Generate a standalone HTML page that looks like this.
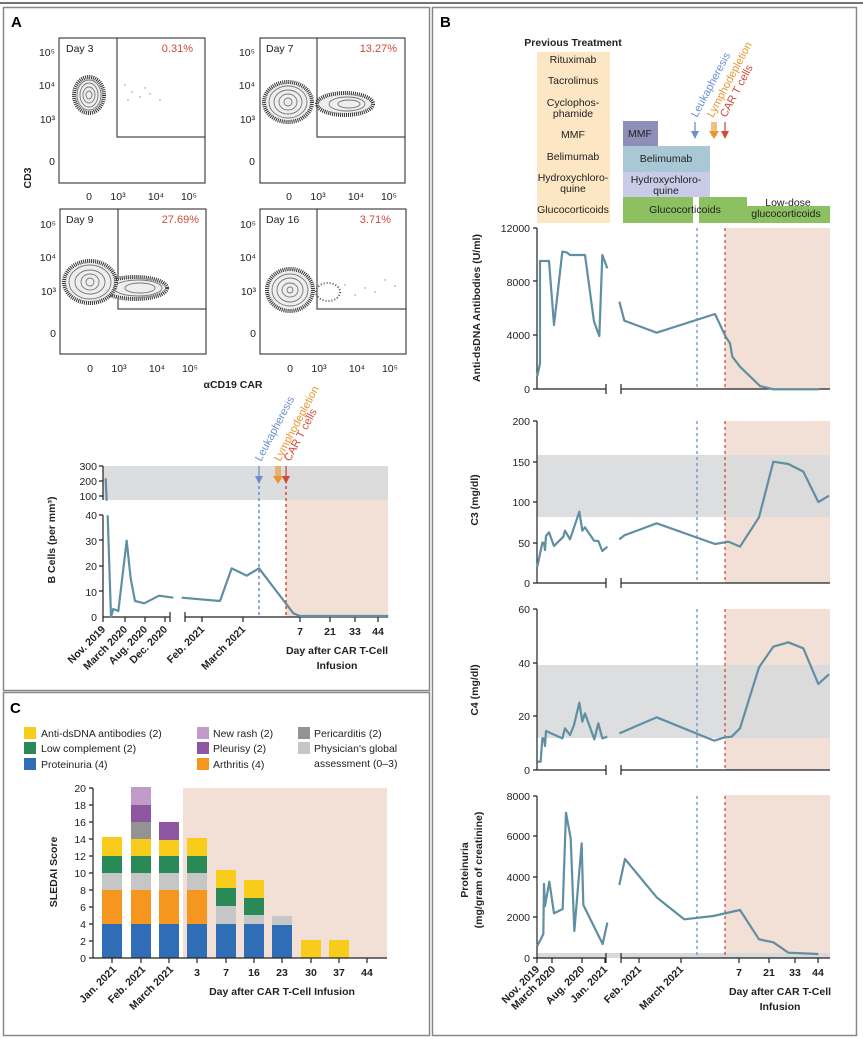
<!DOCTYPE html>
<html><head><meta charset="utf-8"><style>
body{margin:0;background:#fff}
svg{display:block;font-family:"Liberation Sans",sans-serif}
.t{font-size:10.5px;fill:#222}
.b{font-weight:bold}
.ln{fill:none;stroke:#5f8fa3;stroke-width:2.2;stroke-linejoin:round}
.ax{stroke:#222;stroke-width:1.2;fill:none}
.o{fill:#eee;stroke:#333;stroke-width:4;stroke-dasharray:1 1}
.c{fill:none;stroke:#777;stroke-width:0.9}
</style></head><body>
<svg width="863" height="1039" viewBox="0 0 863 1039" xmlns="http://www.w3.org/2000/svg">
<line x1="0" y1="3" x2="863" y2="3" stroke="#222" stroke-width="1.2"/>
<rect x="3.5" y="7.5" width="426" height="683" fill="none" stroke="#888" stroke-width="1.5"/>
<rect x="432.5" y="7.5" width="424" height="1028" fill="none" stroke="#888" stroke-width="1.5"/>
<rect x="3.5" y="692.5" width="426" height="343" fill="none" stroke="#888" stroke-width="1.5"/>
<text x="11" y="27" font-size="15" class="b">A</text>
<text x="440" y="27" font-size="15" class="b">B</text>
<text x="10" y="713" font-size="15" class="b">C</text>

<!-- Panel A flow plots -->
<g id="flow">
<g>
<rect x="59" y="38" width="146" height="145" fill="none" stroke="#222"/>
<rect x="117" y="38" width="88" height="99" fill="none" stroke="#222"/>
<ellipse cx="89" cy="95" rx="15" ry="18" class="o"/>
<ellipse cx="89" cy="95" rx="12" ry="15" class="c"/>
<ellipse cx="89" cy="95" rx="9" ry="12" class="c"/>
<ellipse cx="89" cy="95" rx="6" ry="8" class="c"/>
<ellipse cx="89" cy="95" rx="3" ry="4" class="c"/>
<g fill="#888"><circle cx="125" cy="85" r=".7"/><circle cx="132" cy="92" r=".7"/><circle cx="140" cy="97" r=".7"/><circle cx="150" cy="94" r=".7"/><circle cx="160" cy="100" r=".7"/><circle cx="128" cy="100" r=".7"/><circle cx="145" cy="88" r=".7"/></g>
<text x="66" y="52" class="t" font-size="11">Day 3</text>
<text x="193" y="52" font-size="11" text-anchor="end" fill="#d04a3a">0.31%</text>
</g>
<g>
<rect x="260" y="38" width="145" height="145" fill="none" stroke="#222"/>
<rect x="317" y="38" width="88" height="99" fill="none" stroke="#222"/>
<ellipse cx="345" cy="104" rx="28" ry="11" class="o"/>
<ellipse cx="288" cy="102" rx="24" ry="20" class="o"/>
<ellipse cx="288" cy="102" rx="19" ry="16" class="c"/>
<ellipse cx="288" cy="102" rx="14" ry="12" class="c"/>
<ellipse cx="288" cy="102" rx="9" ry="8" class="c"/>
<ellipse cx="288" cy="102" rx="4" ry="4" class="c"/>
<ellipse cx="347" cy="104" rx="18" ry="7" class="c"/>
<ellipse cx="349" cy="104" rx="11" ry="4" class="c"/>
<text x="266" y="52" class="t" font-size="11">Day 7</text>
<text x="397" y="52" font-size="11" text-anchor="end" fill="#d04a3a">13.27%</text>
</g>
<g>
<rect x="60" y="209" width="146" height="145" fill="none" stroke="#222"/>
<rect x="118" y="209" width="88" height="100" fill="none" stroke="#222"/>
<ellipse cx="135" cy="288" rx="32" ry="11" class="o"/>
<ellipse cx="90" cy="282" rx="26" ry="21" class="o"/>
<ellipse cx="90" cy="282" rx="21" ry="17" class="c"/>
<ellipse cx="90" cy="282" rx="15" ry="12" class="c"/>
<ellipse cx="90" cy="282" rx="9" ry="8" class="c"/>
<ellipse cx="90" cy="282" rx="4" ry="4" class="c"/>
<ellipse cx="138" cy="288" rx="24" ry="8" class="c"/>
<ellipse cx="140" cy="288" rx="15" ry="5" class="c"/>
<text x="66" y="223" class="t" font-size="11">Day 9</text>
<text x="199" y="223" font-size="11" text-anchor="end" fill="#d04a3a">27.69%</text>
</g>
<g>
<rect x="260" y="209" width="146" height="145" fill="none" stroke="#222"/>
<rect x="317" y="209" width="89" height="100" fill="none" stroke="#222"/>
<ellipse cx="290" cy="290" rx="23" ry="21" class="o"/>
<ellipse cx="290" cy="290" rx="18" ry="16" class="c"/>
<ellipse cx="290" cy="290" rx="13" ry="12" class="c"/>
<ellipse cx="290" cy="290" rx="8" ry="7" class="c"/>
<ellipse cx="290" cy="290" rx="3" ry="3" class="c"/>
<ellipse cx="328" cy="292" rx="12" ry="9" fill="none" stroke="#555" stroke-width="2" stroke-dasharray="1 2"/>
<g fill="#888"><circle cx="345" cy="285" r=".7"/><circle cx="355" cy="295" r=".7"/><circle cx="365" cy="288" r=".7"/><circle cx="375" cy="292" r=".7"/><circle cx="385" cy="280" r=".7"/><circle cx="395" cy="286" r=".7"/></g>
<text x="266" y="223" class="t" font-size="11">Day 16</text>
<text x="391" y="223" font-size="11" text-anchor="end" fill="#d04a3a">3.71%</text>
</g>
<g class="t" font-size="10.5" text-anchor="end">
<text x="55" y="56">10⁵</text><text x="55" y="89">10⁴</text><text x="55" y="123">10³</text><text x="55" y="165">0</text>
<text x="255" y="56">10⁵</text><text x="255" y="89">10⁴</text><text x="255" y="123">10³</text><text x="255" y="165">0</text>
<text x="56" y="228">10⁵</text><text x="56" y="261">10⁴</text><text x="56" y="295">10³</text><text x="56" y="337">0</text>
<text x="256" y="228">10⁵</text><text x="256" y="261">10⁴</text><text x="256" y="295">10³</text><text x="256" y="337">0</text>
</g>
<g class="t" font-size="10.5" text-anchor="middle">
<text x="89" y="200">0</text><text x="118" y="200">10³</text><text x="156" y="200">10⁴</text><text x="189" y="200">10⁵</text>
<text x="289" y="200">0</text><text x="318" y="200">10³</text><text x="356" y="200">10⁴</text><text x="389" y="200">10⁵</text>
<text x="90" y="372">0</text><text x="119" y="372">10³</text><text x="157" y="372">10⁴</text><text x="190" y="372">10⁵</text>
<text x="290" y="372">0</text><text x="319" y="372">10³</text><text x="357" y="372">10⁴</text><text x="390" y="372">10⁵</text>
</g>
<text transform="translate(31,178) rotate(-90)" class="t b" font-size="11.5" text-anchor="middle">CD3</text>
<text x="233" y="388" class="t b" font-size="11.5" text-anchor="middle">αCD19 CAR</text>
</g>

<!-- B cells chart -->
<rect x="286" y="466" width="102" height="151" fill="#f2dfd5"/>
<rect x="103" y="466" width="285" height="34" fill="#d9dadb" opacity="0.92"/>
<line x1="259" y1="480" x2="259" y2="617" stroke="#6b8fd0" stroke-width="1.5" stroke-dasharray="3 3"/>
<line x1="286" y1="480" x2="286" y2="617" stroke="#d04a3a" stroke-width="1.5" stroke-dasharray="3 3"/>
<path class="ax" d="M103,466V500 M103,515V617H170 M185,617H388 M99,466H103 M99,481H103 M99,496H103 M99,515H103 M99,540H103 M99,566H103 M99,591H103"/>
<path class="ax" d="M170,612V622 M185,612V622 M103,617V622 M125,617V622 M145,617V622 M165,617V622 M202,617V622 M243,617V622 M300,617V622 M330,617V622 M355,617V622 M378,617V622"/>
<g class="t" text-anchor="end" font-size="11">
<text x="97" y="470">300</text><text x="97" y="485">200</text><text x="97" y="500">100</text>
<text x="97" y="519">40</text><text x="97" y="545">30</text><text x="97" y="570">20</text><text x="97" y="596">10</text><text x="97" y="621">0</text>
</g>
<g transform="translate(40,410) scale(0.33333)">
<polyline class="ln" vector-effect="non-scaling-stroke" points="197,205 200,272"/>
<polyline class="ln" vector-effect="non-scaling-stroke" points="203,316 213,620 220,597 228,600 235,603 260,392 272,505 285,573 313,580 357,557 400,563"/>
<polyline class="ln" vector-effect="non-scaling-stroke" points="425,563 540,573 575,475 620,497 657,475 760,610 780,618 1045,618"/>
</g>
<g class="t b" font-size="10.5" text-anchor="end">
<text transform="translate(106,630) rotate(-45)">Nov. 2019</text>
<text transform="translate(128,630) rotate(-45)">March 2020</text>
<text transform="translate(148,630) rotate(-45)">Aug. 2020</text>
<text transform="translate(168,630) rotate(-45)">Dec. 2020</text>
<text transform="translate(205,630) rotate(-45)">Feb. 2021</text>
<text transform="translate(246,630) rotate(-45)">March 2021</text>
</g>
<g class="t b" font-size="10.5" text-anchor="middle">
<text x="300" y="635">7</text><text x="330" y="635">21</text><text x="355" y="635">33</text><text x="378" y="635">44</text>
<text x="337" y="654">Day after CAR T-Cell</text><text x="337" y="669">Infusion</text>
</g>
<text transform="translate(55,540) rotate(-90)" class="t b" font-size="11" text-anchor="middle">B Cells (per mm³)</text>
<g font-size="11">
<text transform="translate(261,462) rotate(-62)" fill="#6b8fd0">Leukapheresis</text>
<text transform="translate(280,462) rotate(-62)" fill="#e8962e">Lymphodepletion</text>
<text transform="translate(290,462) rotate(-62)" fill="#d04a3a">CAR T cells</text>
</g>
<path d="M259,466V482" stroke="#6b8fd0" stroke-width="1.3"/><path d="M255,476L259,484L263,476Z" fill="#6b8fd0"/>
<path d="M276,466V480M278,466V480M280,466V480" stroke="#e8962e" stroke-width="1.2"/><path d="M273,476L278,484L283,476Z" fill="#e8962e"/>
<path d="M286,466V482" stroke="#d04a3a" stroke-width="1.3"/><path d="M282,476L286,484L290,476Z" fill="#d04a3a"/>

<!-- Panel B treatments -->
<text x="573" y="46" class="t b" font-size="11.5" text-anchor="middle">Previous Treatment</text>
<rect x="537" y="52" width="73" height="171" fill="#fde6c4"/>
<g class="t" font-size="9.5" text-anchor="middle">
<text x="573" y="63">Rituximab</text><text x="573" y="84">Tacrolimus</text>
<text x="573" y="106">Cyclophos-</text><text x="573" y="117">phamide</text>
<text x="573" y="138">MMF</text><text x="573" y="160">Belimumab</text>
<text x="573" y="181">Hydroxychloro-</text><text x="573" y="192">quine</text>
<text x="573" y="213">Glucocorticoids</text>
</g>
<rect x="623" y="121" width="35" height="26" fill="#8e8fb8"/>
<rect x="623" y="146" width="87" height="26" fill="#a9c8d6"/>
<rect x="623" y="172" width="87" height="25" fill="#c9cbe8"/>
<rect x="623" y="197" width="70" height="26" fill="#8cc060"/>
<rect x="699" y="197" width="48" height="26" fill="#8cc060"/>
<rect x="747" y="206" width="83" height="17" fill="#8cc060"/>
<g class="t" font-size="9.5">
<text x="628" y="137">MMF</text>
<text x="666" y="162" text-anchor="middle">Belimumab</text>
<text x="666" y="183" text-anchor="middle">Hydroxychloro-</text><text x="666" y="194" text-anchor="middle">quine</text>
<text x="685" y="213" text-anchor="middle">Glucocorticoids</text>
<text x="788" y="206" text-anchor="middle">Low-dose</text><text x="786" y="217" text-anchor="middle">glucocorticoids</text>
</g>
<g font-size="11">
<text transform="translate(697,118) rotate(-62)" fill="#6b8fd0">Leukapheresis</text>
<text transform="translate(713,118) rotate(-62)" fill="#e8962e">Lymphodepletion</text>
<text transform="translate(726,118) rotate(-62)" fill="#d04a3a">CAR T cells</text>
</g>
<path d="M695,122V136" stroke="#6b8fd0" stroke-width="1.3"/><path d="M691,131L695,139L699,131Z" fill="#6b8fd0"/>
<path d="M712,122V136M714,122V136M716,122V136" stroke="#e8962e" stroke-width="1.2"/><path d="M709,131L714,139L719,131Z" fill="#e8962e"/>
<path d="M725,122V136" stroke="#d04a3a" stroke-width="1.3"/><path d="M721,131L725,139L729,131Z" fill="#d04a3a"/>

<!-- anti-dsDNA -->
<rect x="725" y="228" width="105" height="161" fill="#f2dfd5"/>
<line x1="697" y1="228" x2="697" y2="389" stroke="#6b8fd0" stroke-width="1.3" stroke-dasharray="3 3"/>
<line x1="725" y1="228" x2="725" y2="389" stroke="#d04a3a" stroke-width="1.3" stroke-dasharray="3 3"/>
<path class="ax" d="M537,228V389H606 M621,389H830 M533,228H537 M533,281H537 M533,335H537 M533,389H537 M606,384V394 M621,384V394"/>
<g class="t" text-anchor="end" font-size="11"><text x="530" y="232">12000</text><text x="530" y="286">8000</text><text x="530" y="339">4000</text><text x="530" y="393">0</text></g>
<text transform="translate(480,308) rotate(-90)" class="t b" font-size="11" text-anchor="middle">Anti-dsDNA Antibodies (U/ml)</text>
<g transform="translate(430,0) scale(0.33333)">
<polyline class="ln" vector-effect="non-scaling-stroke" points="322,1128 330,1090 330,783 357,783 372,975 397,755 410,757 420,765 465,765 492,965 508,1008 517,765 532,805"/>
<polyline class="ln" vector-effect="non-scaling-stroke" points="568,905 583,962 680,998 855,942 887,1010 900,1030 907,1070 930,1100 990,1158 1030,1168 1168,1168"/>
</g>

<!-- C3 -->
<rect x="725" y="421" width="105" height="162" fill="#f2dfd5"/>
<rect x="537" y="455" width="293" height="62" fill="#d9dadb" opacity="0.9"/>
<line x1="697" y1="421" x2="697" y2="583" stroke="#6b8fd0" stroke-width="1.3" stroke-dasharray="3 3"/>
<line x1="725" y1="421" x2="725" y2="583" stroke="#d04a3a" stroke-width="1.3" stroke-dasharray="3 3"/>
<path class="ax" d="M537,421V583H606 M621,583H830 M533,421H537 M533,462H537 M533,502H537 M533,543H537 M533,583H537 M606,578V588 M621,578V588"/>
<g class="t" text-anchor="end" font-size="11"><text x="530" y="425">200</text><text x="530" y="466">150</text><text x="530" y="506">100</text><text x="530" y="547">50</text><text x="530" y="587">0</text></g>
<text transform="translate(478,500) rotate(-90)" class="t b" font-size="11" text-anchor="middle">C3 (mg/dl)</text>
<g transform="translate(430,410) scale(0.33333)">
<polyline class="ln" vector-effect="non-scaling-stroke" points="322,470 337,398 342,398 345,420 348,378 357,367 372,408 400,380 405,362 420,388 448,305 457,362 465,352 492,392 505,393 517,423 532,410"/>
<polyline class="ln" vector-effect="non-scaling-stroke" points="568,388 583,376 680,340 855,402 895,395 930,410 987,322 1030,155 1075,162 1120,185 1165,276 1197,257"/>
</g>

<!-- C4 -->
<rect x="725" y="609" width="105" height="161" fill="#f2dfd5"/>
<rect x="537" y="665" width="293" height="73" fill="#d9dadb" opacity="0.9"/>
<line x1="697" y1="609" x2="697" y2="770" stroke="#6b8fd0" stroke-width="1.3" stroke-dasharray="3 3"/>
<line x1="725" y1="609" x2="725" y2="770" stroke="#d04a3a" stroke-width="1.3" stroke-dasharray="3 3"/>
<path class="ax" d="M537,609V770H606 M621,770H830 M533,609H537 M533,663H537 M533,716H537 M533,770H537 M606,765V775 M621,765V775"/>
<g class="t" text-anchor="end" font-size="11"><text x="530" y="613">60</text><text x="530" y="667">40</text><text x="530" y="720">20</text><text x="530" y="774">0</text></g>
<text transform="translate(478,690) rotate(-90)" class="t b" font-size="11" text-anchor="middle">C4 (mg/dl)</text>
<g transform="translate(430,410) scale(0.33333)">
<polyline class="ln" vector-effect="non-scaling-stroke" points="322,1055 332,1055 337,985 342,985 345,1008 348,963 397,985 405,955 420,975 432,945 448,878 457,935 465,910 493,988 505,940 517,985 532,980"/>
<polyline class="ln" vector-effect="non-scaling-stroke" points="568,970 680,922 852,992 885,982 905,980 930,955 987,772 1030,710 1075,697 1120,715 1165,822 1197,793"/>
</g>

<!-- Proteinuria -->
<rect x="725" y="795" width="105" height="163" fill="#f2dfd5"/>
<rect x="537" y="953" width="293" height="5" fill="#d9dadb"/>
<line x1="697" y1="796" x2="697" y2="958" stroke="#6b8fd0" stroke-width="1.3" stroke-dasharray="3 3"/>
<line x1="725" y1="796" x2="725" y2="958" stroke="#d04a3a" stroke-width="1.3" stroke-dasharray="3 3"/>
<path class="ax" d="M537,796V958H606 M621,958H830 M533,796H537 M533,836H537 M533,877H537 M533,917H537 M533,958H537 M606,953V963 M621,953V963 M537,958V963 M552,958V963 M582,958V963 M605,958V963 M639,958V963 M681,958V963 M739,958V963 M769,958V963 M795,958V963 M818,958V963"/>
<g class="t" text-anchor="end" font-size="11"><text x="530" y="800">8000</text><text x="530" y="840">6000</text><text x="530" y="881">4000</text><text x="530" y="921">2000</text><text x="530" y="962">0</text></g>
<text transform="translate(468,870) rotate(-90)" class="t b" font-size="11" text-anchor="middle">Proteinuria</text>
<text transform="translate(482,870) rotate(-90)" class="t b" font-size="11" text-anchor="middle">(mg/gram of creatinine)</text>
<g transform="translate(430,780) scale(0.33333)">
<polyline class="ln" vector-effect="non-scaling-stroke" points="322,498 340,462 342,312 345,378 358,305 372,400 398,387 408,98 422,175 433,453 455,190 460,375 518,492 532,428"/>
<polyline class="ln" vector-effect="non-scaling-stroke" points="568,315 585,237 680,352 763,418 850,408 930,390 987,478 1030,487 1075,518 1165,522"/>
</g>
<g class="t b" font-size="10.5" text-anchor="end">
<text transform="translate(540,970) rotate(-45)">Nov. 2019</text>
<text transform="translate(556,970) rotate(-45)">March 2020</text>
<text transform="translate(585,970) rotate(-45)">Aug. 2020</text>
<text transform="translate(608,970) rotate(-45)">Jan. 2021</text>
<text transform="translate(642,970) rotate(-45)">Feb. 2021</text>
<text transform="translate(684,970) rotate(-45)">March 2021</text>
</g>
<g class="t b" font-size="10.5" text-anchor="middle">
<text x="739" y="976">7</text><text x="769" y="976">21</text><text x="795" y="976">33</text><text x="818" y="976">44</text>
<text x="780" y="995">Day after CAR T-Cell</text><text x="780" y="1010">Infusion</text>
</g>

<!-- Panel C -->
<g class="t" font-size="10.5">
<rect x="24" y="727" width="12" height="12" fill="#f8cc1b"/><text x="41" y="737">Anti-dsDNA antibodies (2)</text>
<rect x="24" y="742" width="12" height="12" fill="#2a8a57"/><text x="41" y="752">Low complement (2)</text>
<rect x="24" y="758" width="12" height="12" fill="#2f6eb6"/><text x="41" y="768">Proteinuria (4)</text>
<rect x="197" y="727" width="12" height="12" fill="#c09ac8"/><text x="213" y="737">New rash (2)</text>
<rect x="197" y="742" width="12" height="12" fill="#8e55a0"/><text x="213" y="752">Pleurisy (2)</text>
<rect x="197" y="758" width="12" height="12" fill="#f5961f"/><text x="213" y="768">Arthritis (4)</text>
<rect x="298" y="727" width="12" height="12" fill="#939393"/><text x="314" y="737">Pericarditis (2)</text>
<rect x="298" y="742" width="12" height="12" fill="#c6c6c6"/><text x="314" y="752">Physician's global</text>
<text x="314" y="767">assessment (0–3)</text>
</g>
<rect x="183" y="788" width="204" height="170" fill="#f2dfd5"/>
<g id="bars">
<rect x="102" y="924" width="20" height="34" fill="#2f6eb6"/><rect x="102" y="890" width="20" height="34" fill="#f5961f"/><rect x="102" y="873" width="20" height="17" fill="#c6c6c6"/><rect x="102" y="856" width="20" height="17" fill="#2a8a57"/><rect x="102" y="837" width="20" height="19" fill="#f8cc1b"/>
<rect x="131" y="924" width="20" height="34" fill="#2f6eb6"/><rect x="131" y="890" width="20" height="34" fill="#f5961f"/><rect x="131" y="873" width="20" height="17" fill="#c6c6c6"/><rect x="131" y="856" width="20" height="17" fill="#2a8a57"/><rect x="131" y="839" width="20" height="17" fill="#f8cc1b"/><rect x="131" y="822" width="20" height="17" fill="#939393"/><rect x="131" y="805" width="20" height="17" fill="#8e55a0"/><rect x="131" y="787" width="20" height="18" fill="#c09ac8"/>
<rect x="159" y="924" width="20" height="34" fill="#2f6eb6"/><rect x="159" y="890" width="20" height="34" fill="#f5961f"/><rect x="159" y="873" width="20" height="17" fill="#c6c6c6"/><rect x="159" y="856" width="20" height="17" fill="#2a8a57"/><rect x="159" y="840" width="20" height="16" fill="#f8cc1b"/><rect x="159" y="822" width="20" height="18" fill="#8e55a0"/>
<rect x="187" y="924" width="20" height="34" fill="#2f6eb6"/><rect x="187" y="890" width="20" height="34" fill="#f5961f"/><rect x="187" y="873" width="20" height="17" fill="#c6c6c6"/><rect x="187" y="856" width="20" height="17" fill="#2a8a57"/><rect x="187" y="838" width="20" height="18" fill="#f8cc1b"/>
<rect x="216" y="924" width="20" height="34" fill="#2f6eb6"/><rect x="216" y="906" width="20" height="18" fill="#c6c6c6"/><rect x="216" y="888" width="20" height="18" fill="#2a8a57"/><rect x="216" y="870" width="20" height="18" fill="#f8cc1b"/>
<rect x="244" y="924" width="20" height="34" fill="#2f6eb6"/><rect x="244" y="915" width="20" height="9" fill="#c6c6c6"/><rect x="244" y="898" width="20" height="17" fill="#2a8a57"/><rect x="244" y="880" width="20" height="18" fill="#f8cc1b"/>
<rect x="272" y="925" width="20" height="33" fill="#2f6eb6"/><rect x="272" y="916" width="20" height="9" fill="#c6c6c6"/>
<rect x="301" y="940" width="20" height="18" fill="#f8cc1b"/>
<rect x="329" y="940" width="20" height="18" fill="#f8cc1b"/>
</g>
<path class="ax" d="M93,788V958H387 M89,788H93 M89,805H93 M89,822H93 M89,839H93 M89,856H93 M89,873H93 M89,890H93 M89,907H93 M89,924H93 M89,941H93 M89,958H93 M112,958V963 M141,958V963 M169,958V963 M197,958V963 M226,958V963 M254,958V963 M282,958V963 M311,958V963 M339,958V963 M367,958V963"/>
<g class="t" text-anchor="end" font-size="11">
<text x="86" y="792">20</text><text x="86" y="809">18</text><text x="86" y="826">16</text><text x="86" y="843">14</text><text x="86" y="860">12</text><text x="86" y="877">10</text><text x="86" y="894">8</text><text x="86" y="911">6</text><text x="86" y="928">4</text><text x="86" y="945">2</text><text x="86" y="962">0</text>
</g>
<text transform="translate(57,872) rotate(-90)" class="t b" font-size="11.5" text-anchor="middle">SLEDAI Score</text>
<g class="t b" font-size="10.5" text-anchor="end">
<text transform="translate(117,970) rotate(-45)">Jan. 2021</text>
<text transform="translate(146,970) rotate(-45)">Feb. 2021</text>
<text transform="translate(174,970) rotate(-45)">March 2021</text>
</g>
<g class="t b" font-size="11" text-anchor="middle">
<text x="197" y="976">3</text><text x="226" y="976">7</text><text x="254" y="976">16</text><text x="282" y="976">23</text><text x="311" y="976">30</text><text x="339" y="976">37</text><text x="367" y="976">44</text>
<text x="282" y="995">Day after CAR T-Cell Infusion</text>
</g>
</svg>
</body></html>
